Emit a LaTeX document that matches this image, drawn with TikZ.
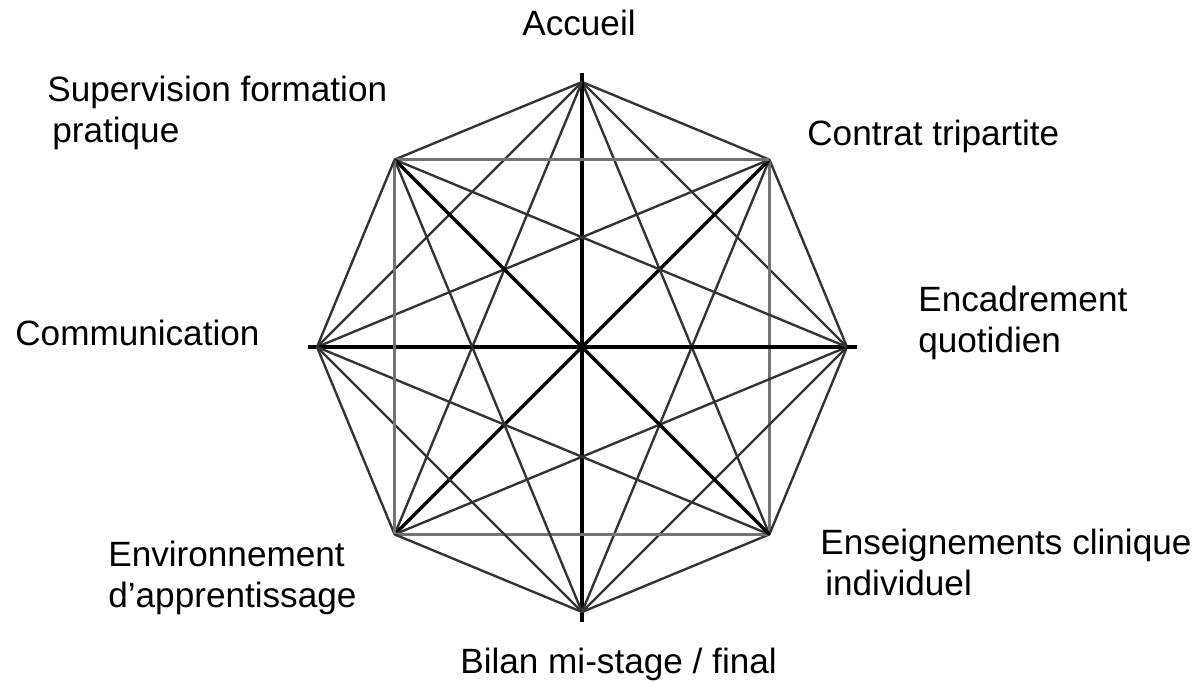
\documentclass[tikz,border=0pt]{standalone}
\usepackage{fontspec}
\setmainfont{Liberation Sans}
\usetikzlibrary{arrows.meta}

\begin{document}
\begin{tikzpicture}[x=0.02cm, y=-0.02cm,
  vertex/.style={shape=coordinate},
  chord/.style={draw=black!80, line width=1.35pt},
  side/.style={draw=black!55, line width=1.5pt},
  diam/.style={draw=black, line width=1.9pt},
  axis/.style={diam, shorten <=-0.19cm, shorten >=-0.19cm},
  txt/.style={inner sep=0pt, align=left, font=\fontsize{20}{23}\selectfont}]
\useasboundingbox (0,0) rectangle (1194,681);
\node[vertex] (Acc) at (582.0, 82.0) {};
\node[vertex] (Con) at (769.4, 159.6) {};
\node[vertex] (Enc) at (847.0, 347.0) {};
\node[vertex] (Ens) at (769.4, 534.4) {};
\node[vertex] (Bil) at (582.0, 612.0) {};
\node[vertex] (Env) at (394.6, 534.4) {};
\node[vertex] (Com) at (317.0, 347.0) {};
\node[vertex] (Sup) at (394.6, 159.6) {};
\node[txt, anchor=base] (AccT) at (579, 35) {Accueil};
\node[txt, anchor=base west] (ConT) at (807, 145) {Contrat tripartite};
\node[txt, anchor=base west] (EncT) at (918, 352) {Encadrement\\quotidien};
\node[txt, anchor=base west] (EnsT) at (820, 595) {Enseignements clinique\\\hspace{0.1cm}individuel};
\node[txt, anchor=base west] (BilT) at (460, 673) {Bilan mi-stage / final};
\node[txt, anchor=base west] (EnvT) at (108, 607) {Environnement\\d’apprentissage};
\node[txt, anchor=base west] (ComT) at (15, 345) {Communication};
\node[txt, anchor=base west] (SupT) at (47, 142) {Supervision formation\\\hspace{0.1cm}pratique};
\draw [chord] (Acc) -- (Con) ;
\draw [chord] (Acc) -- (Enc) ;
\draw [chord] (Acc) -- (Ens) ;
\draw [axis] (Acc) -- (Bil) ;
\draw [chord] (Acc) -- (Env) ;
\draw [chord] (Acc) -- (Com) ;
\draw [chord] (Acc) -- (Sup) ;
\draw [chord] (Con) -- (Enc) ;
\draw [side] (Con) -- (Ens) ;
\draw [chord] (Con) -- (Bil) ;
\draw [diam] (Con) -- (Env) ;
\draw [chord] (Con) -- (Com) ;
\draw [side] (Con) -- (Sup) ;
\draw [chord] (Enc) -- (Ens) ;
\draw [chord] (Enc) -- (Bil) ;
\draw [chord] (Enc) -- (Env) ;
\draw [axis] (Enc) -- (Com) ;
\draw [chord] (Enc) -- (Sup) ;
\draw [chord] (Ens) -- (Bil) ;
\draw [side] (Ens) -- (Env) ;
\draw [chord] (Ens) -- (Com) ;
\draw [diam] (Ens) -- (Sup) ;
\draw [chord] (Bil) -- (Env) ;
\draw [chord] (Bil) -- (Com) ;
\draw [chord] (Bil) -- (Sup) ;
\draw [chord] (Env) -- (Com) ;
\draw [side] (Env) -- (Sup) ;
\draw [chord] (Com) -- (Sup) ;
\end{tikzpicture}
\end{document}
